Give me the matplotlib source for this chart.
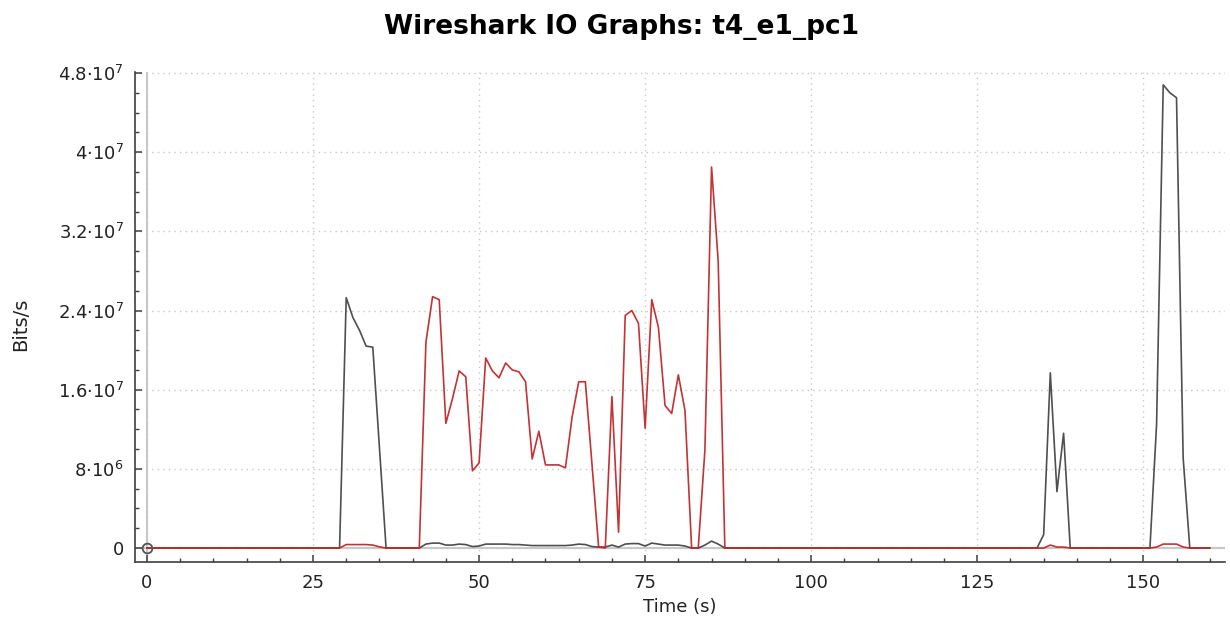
import matplotlib
matplotlib.use("Agg")
import matplotlib.pyplot as plt
from matplotlib.ticker import MultipleLocator, FuncFormatter
import numpy as np

# ---- data (values in Mbit/s, one sample per second, t = 0..160) ----
time_s = list(range(0, 161))

black_mbps = [
    0, 0, 0, 0, 0, 0, 0, 0, 0, 0,            # 0-9
    0, 0, 0, 0, 0, 0, 0, 0, 0, 0,            # 10-19
    0, 0, 0, 0, 0, 0, 0, 0, 0, 0,            # 20-29
    25.3, 23.3, 22.0, 20.4, 20.3, 10.2, 0, 0, 0, 0,   # 30-39
    0, 0, 0.4, 0.5, 0.5, 0.3, 0.3, 0.4, 0.35, 0.15,   # 40-49
    0.2, 0.4, 0.4, 0.4, 0.4, 0.35, 0.35, 0.3, 0.25, 0.25,  # 50-59
    0.25, 0.25, 0.25, 0.25, 0.3, 0.4, 0.35, 0.15, 0.1, 0.1,  # 60-69
    0.3, 0.1, 0.4, 0.45, 0.45, 0.2, 0.5, 0.4, 0.3, 0.3,  # 70-79
    0.3, 0.2, 0, 0, 0.3, 0.7, 0.4, 0, 0, 0,  # 80-89
    0, 0, 0, 0, 0, 0, 0, 0, 0, 0,            # 90-99
    0, 0, 0, 0, 0, 0, 0, 0, 0, 0,            # 100-109
    0, 0, 0, 0, 0, 0, 0, 0, 0, 0,            # 110-119
    0, 0, 0, 0, 0, 0, 0, 0, 0, 0,            # 120-129
    0, 0, 0, 0, 0, 1.35, 17.7, 5.7, 11.6, 0,  # 130-139
    0, 0, 0, 0, 0, 0, 0, 0, 0, 0,            # 140-149
    0, 0, 12.5, 46.8, 46.0, 45.5, 9.1, 0, 0, 0,  # 150-159
    0,                                        # 160
]

red_mbps = [
    0, 0, 0, 0, 0, 0, 0, 0, 0, 0,            # 0-9
    0, 0, 0, 0, 0, 0, 0, 0, 0, 0,            # 10-19
    0, 0, 0, 0, 0, 0, 0, 0, 0, 0,            # 20-29
    0.35, 0.35, 0.35, 0.35, 0.3, 0.12, 0, 0, 0, 0,    # 30-39
    0, 0, 20.8, 25.4, 25.1, 12.6, 15.1, 17.9, 17.3, 7.8,  # 40-49
    8.6, 19.2, 17.9, 17.2, 18.7, 18.0, 17.8, 16.8, 9.0, 11.8,  # 50-59
    8.4, 8.4, 8.4, 8.1, 13.2, 16.8, 16.8, 8.4, 0.1, 0,  # 60-69
    15.3, 1.6, 23.5, 24.0, 22.7, 12.1, 25.1, 22.3, 14.4, 13.6,  # 70-79
    17.5, 13.9, 0, 0, 9.9, 38.5, 29.0, 0, 0, 0,  # 80-89
    0, 0, 0, 0, 0, 0, 0, 0, 0, 0,            # 90-99
    0, 0, 0, 0, 0, 0, 0, 0, 0, 0,            # 100-109
    0, 0, 0, 0, 0, 0, 0, 0, 0, 0,            # 110-119
    0, 0, 0, 0, 0, 0, 0, 0, 0, 0,            # 120-129
    0, 0, 0, 0, 0, 0, 0.3, 0.1, 0.1, 0,      # 130-139
    0, 0, 0, 0, 0, 0, 0, 0, 0, 0,            # 140-149
    0, 0, 0.1, 0.4, 0.4, 0.4, 0.1, 0, 0, 0,  # 150-159
    0,                                        # 160
]

title = "Wireshark IO Graphs: t4_e1_pc1"
x_label = "Time (s)"
y_label = "Bits/s"

# ---- style ----
plt.rcParams['font.family'] = ['DejaVu Sans']
plt.rcParams['mathtext.default'] = 'regular'

fig = plt.figure(figsize=(12.30, 6.23), dpi=100)
ax = fig.add_axes([135/1230, 1 - 561.7/623, 1090/1230, (561.7 - 71.7)/623])

t = np.array(time_s)
black = np.array(black_mbps) * 1e6
red = np.array(red_mbps) * 1e6

grid_c = '#c8c8c8'
ax.set_xlim(-1.8, 162.3)
ax.set_ylim(-1.38e6, 4.813e7)

# zero lines
ax.axhline(0, color=grid_c, lw=1.5, zorder=1)
ax.axvline(0, color=grid_c, lw=1.5, zorder=1)

ax.plot(t, black, color='#3c3c3c', lw=1.2, alpha=0.9, zorder=3)
ax.plot(t, red, color='#c0282a', lw=1.2, alpha=0.95, zorder=4)
ax.plot([t[0]], [black[0]], 'o', mfc='none', mec='#555555', mew=1.3, ms=7, zorder=5)

ax.xaxis.set_major_locator(MultipleLocator(25))
ax.xaxis.set_minor_locator(MultipleLocator(5))
ax.yaxis.set_major_locator(MultipleLocator(8e6))
ax.yaxis.set_minor_locator(MultipleLocator(2e6))


def fmt_y(v, pos):
    if abs(v) < 1:
        return "0"
    exp = int(np.floor(np.log10(abs(v)) + 1e-9))
    mant = v / 10 ** exp
    ms = ("%.1f" % mant).rstrip('0').rstrip('.')
    return ms + "\u00b710$^{%d}$" % exp


ax.yaxis.set_major_formatter(FuncFormatter(fmt_y))

ax.grid(True, which='major', color=grid_c, ls=(0, (1, 3)), lw=1.0, zorder=0)

for s in ['top', 'right']:
    ax.spines[s].set_visible(False)
for s in ['left', 'bottom']:
    ax.spines[s].set_color('#404040')
    ax.spines[s].set_linewidth(1.2)

ax.tick_params(which='both', direction='in', colors='#404040', labelcolor='#222222',
               labelsize=13)
ax.tick_params(which='major', length=5, width=1.1)
ax.tick_params(which='minor', length=3, width=1.0)
ax.tick_params(axis='x', pad=8.5)
ax.tick_params(axis='y', pad=8)

ax.set_xlabel(x_label, fontsize=13, color='#222222')
ax.set_ylabel(y_label, fontsize=14, color='#222222')
ax.xaxis.set_label_coords((680 - 135) / 1090, -(607 - 561.7) / 490, transform=ax.transAxes)
ax.yaxis.set_label_coords(-(135 - 21) / 1090, (561.7 - 324) / 490, transform=ax.transAxes)
ax.xaxis.label.set_va('center')
ax.yaxis.label.set_va('center')
fig.suptitle(title, fontsize=19, fontweight='bold', x=0.5057, y=1 - 27/623, va='center')

fig.savefig("out.png", dpi=100)
